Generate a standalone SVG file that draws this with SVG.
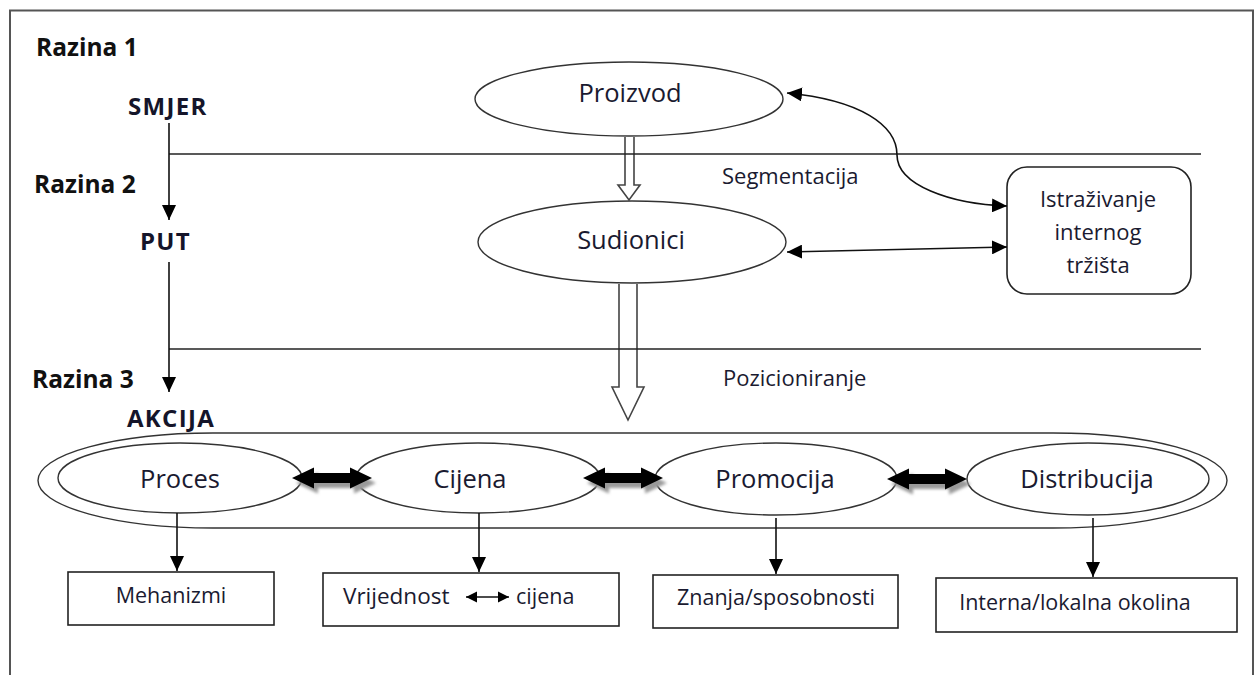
<svg xmlns="http://www.w3.org/2000/svg" width="1258" height="675" viewBox="0 0 1258 675">
  <style>
    .lvl { font-family: "Open Sans", "Liberation Sans", sans-serif; font-weight: bold; font-size: 24.5px; fill: #111; }
    .step { font-family: "Open Sans", "Liberation Sans", sans-serif; font-weight: bold; font-size: 24px; letter-spacing: 1.3px; fill: #15152a; }
    .big { font-family: "Open Sans", "Liberation Sans", sans-serif; font-size: 25.5px; fill: #1a1a30; text-anchor: middle; }
    .mid { font-family: "Open Sans", "Liberation Sans", sans-serif; font-size: 21.5px; fill: #1a1a30; }
    .c { text-anchor: middle; }
    .shape { fill: #fff; stroke: #333; stroke-width: 1.4; }
    .outline { fill: none; stroke: #333; stroke-width: 1.4; }
    .line { fill: none; stroke: #111; stroke-width: 1.6; }
    .rule { fill: none; stroke: #222; stroke-width: 1.5; }
    .hollow { fill: #fff; stroke: #444; stroke-width: 1.6; stroke-linejoin: miter; }
    .box { fill: #fff; stroke: #222; stroke-width: 1.6; }
  </style>
  <defs>
    <marker id="tri" markerUnits="userSpaceOnUse" markerWidth="16" markerHeight="14" refX="15" refY="7" orient="auto-start-reverse">
      <path d="M0,0 L15,7 L0,14 Z" fill="#000"/>
    </marker>
    <marker id="triSmall" markerUnits="userSpaceOnUse" markerWidth="12" markerHeight="12" refX="11" refY="6" orient="auto-start-reverse">
      <path d="M0,0.5 L11,6 L0,11.5 Z" fill="#000"/>
    </marker>
    <filter id="soft" x="-20%" y="-50%" width="140%" height="200%">
      <feGaussianBlur stdDeviation="1.6"/>
    </filter>
    <!-- thick two-way arrow, 80 px long, centred on y=0 -->
    <path id="thick" d="M0,0 L22,-10.5 L22,-5 L58,-5 L58,-10.5 L80,0 L58,10.5 L58,5 L22,5 L22,10.5 Z"/>
  </defs>

  <!-- outer frame (open at the bottom) -->
  <path d="M10,680 V10.5 H1253 V680" fill="none" stroke="#555" stroke-width="2"/>

  <!-- level labels -->
  <g id="levels">
    <text class="lvl" x="36" y="56">Razina 1</text>
    <text class="lvl" x="34" y="193">Razina 2</text>
    <text class="lvl" x="32" y="388">Razina 3</text>
    <text class="step" x="128" y="115">SMJER</text>
    <text class="step" x="140" y="250">PUT</text>
    <text class="step" x="127" y="427">AKCIJA</text>
  </g>

  <!-- hollow flow arrows between levels -->
  <g id="flow-arrows">
    <path class="hollow" d="M625,137 V185 H618 L629,200 L640,185 H634 V137"/>
    <path class="hollow" d="M619,284 V387 H612 L628,420 L644,387 H637 V284"/>
  </g>

  <!-- level separators -->
  <g id="separators">
    <line class="rule" x1="169" y1="154" x2="1201" y2="154"/>
    <line class="rule" x1="169" y1="349" x2="1201" y2="349"/>
    <text class="mid" x="722" y="184" style="font-size:22px">Segmentacija</text>
    <text class="mid" x="723" y="386" style="font-size:22px">Pozicioniranje</text>
  </g>

  <g id="proizvod">
    <ellipse class="shape" cx="629" cy="99" rx="154" ry="37"/>
    <text class="big" x="630" y="102">Proizvod</text>
  </g>

  <g id="sudionici">
    <ellipse class="shape" cx="632" cy="242" rx="154" ry="41"/>
    <text class="big" x="631" y="249">Sudionici</text>
  </g>

  <g id="istrazivanje">
    <rect class="box" x="1007" y="167" width="184" height="127" rx="20" ry="20"/>
    <text class="mid c" x="1098" y="207" style="font-size:22px">Istraživanje</text>
    <text class="mid c" x="1098" y="240" style="font-size:22px">internog</text>
    <text class="mid c" x="1098" y="273" style="font-size:22px">tržišta</text>
  </g>

  <!-- action level container -->
  <g id="akcija">
    <path class="outline" d="M213,433 H1053 A174,47.5 0 0 1 1053,528 H213 A175,47.5 0 0 1 213,433 Z"/>
  </g>

  <g id="proces">
    <ellipse class="shape" cx="180" cy="478" rx="122" ry="35"/>
    <text class="big" x="180" y="488">Proces</text>
  </g>
  <g id="cijena">
    <ellipse class="shape" cx="478" cy="478" rx="122" ry="35"/>
    <text class="big" x="470" y="488">Cijena</text>
  </g>
  <g id="promocija">
    <ellipse class="shape" cx="776" cy="479" rx="121" ry="36"/>
    <text class="big" x="775" y="488">Promocija</text>
  </g>
  <g id="distribucija">
    <ellipse class="shape" cx="1088" cy="479" rx="121" ry="36"/>
    <text class="big" x="1087" y="488">Distribucija</text>
  </g>

  <g id="mehanizmi">
    <rect class="box" x="68" y="572" width="206" height="53"/>
    <text class="mid c" x="171" y="603">Mehanizmi</text>
  </g>
  <g id="vrijednost">
    <rect class="box" x="323" y="573" width="296" height="53"/>
    <text class="mid" x="343" y="604" style="font-size:22.5px">Vrijednost</text>
    <line class="line" x1="466" y1="597" x2="509" y2="597" stroke-width="2" marker-start="url(#triSmall)" marker-end="url(#triSmall)"/>
    <text class="mid" x="516" y="604">cijena</text>
  </g>
  <g id="znanja">
    <rect class="box" x="653" y="575" width="245" height="53"/>
    <text class="mid c" x="776" y="605">Znanja/sposobnosti</text>
  </g>
  <g id="interna">
    <rect class="box" x="936" y="578" width="301" height="54"/>
    <text class="mid c" x="1075" y="610">Interna/lokalna okolina</text>
  </g>

  <!-- connectors -->
  <g id="connectors">
    <line class="line" x1="169" y1="123" x2="169" y2="220" marker-end="url(#tri)"/>
    <line class="line" x1="169" y1="262" x2="169" y2="392" marker-end="url(#tri)"/>

    <path class="line" d="M787,93 C860,100 897,125 897,155 C897,185 950,204 1007,206" marker-start="url(#tri)" marker-end="url(#tri)"/>
    <line class="line" x1="787" y1="252" x2="1007" y2="247" marker-start="url(#tri)" marker-end="url(#tri)"/>

    <line class="line" x1="177" y1="513" x2="177" y2="571" marker-end="url(#tri)"/>
    <line class="line" x1="479" y1="513" x2="479" y2="572" marker-end="url(#tri)"/>
    <line class="line" x1="776" y1="518" x2="776" y2="574" marker-end="url(#tri)"/>
    <line class="line" x1="1093" y1="518" x2="1093" y2="577" marker-end="url(#tri)"/>

    <!-- thick two-way arrows with soft shadow -->
    <use href="#thick" x="296" y="483" fill="#9a9a9a" filter="url(#soft)"/>
    <use href="#thick" x="292" y="478" fill="#000"/>
    <use href="#thick" x="587" y="483" fill="#9a9a9a" filter="url(#soft)"/>
    <use href="#thick" x="583" y="478" fill="#000"/>
    <use href="#thick" x="891" y="484" fill="#9a9a9a" filter="url(#soft)"/>
    <use href="#thick" x="887" y="479" fill="#000"/>
  </g>
</svg>
